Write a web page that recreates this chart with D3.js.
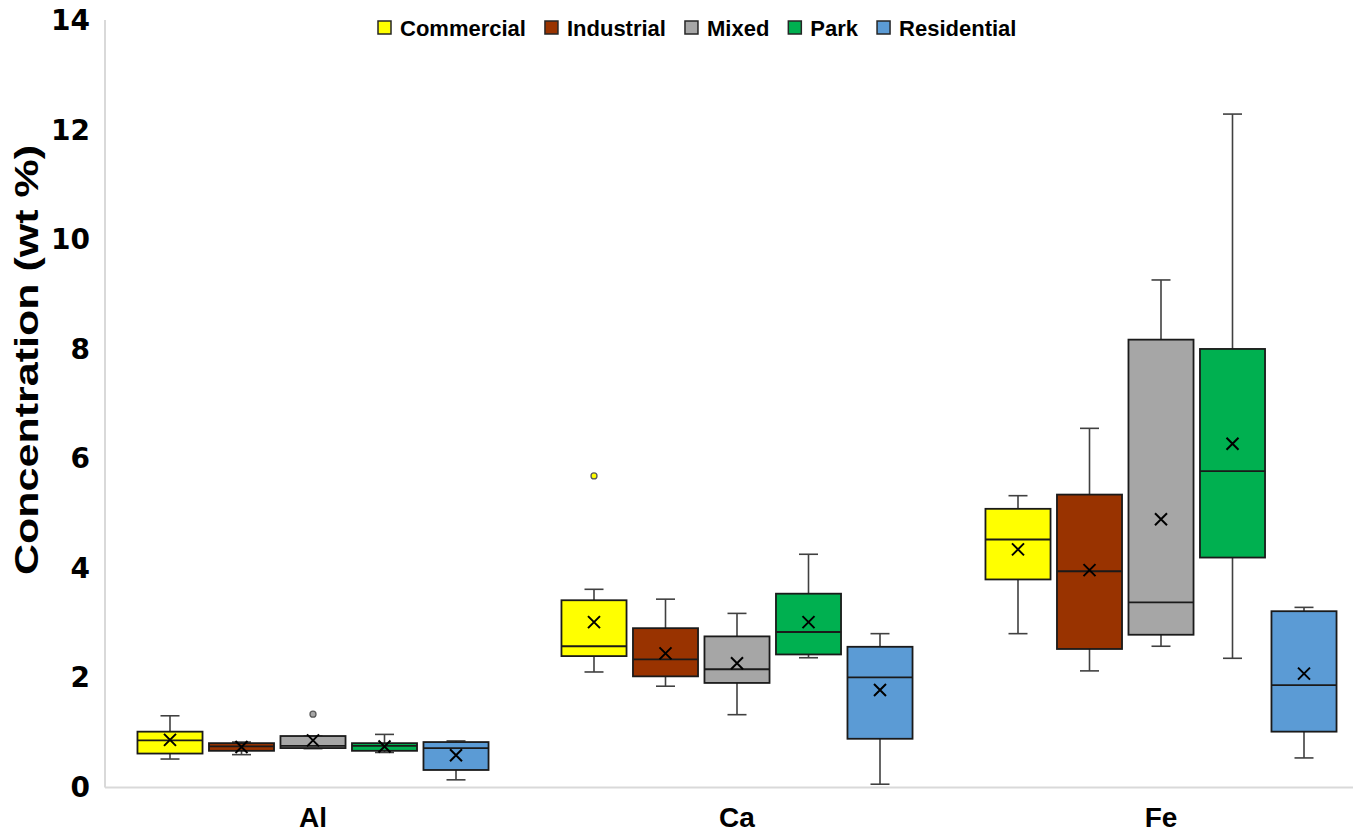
<!DOCTYPE html>
<html>
<head>
<meta charset="utf-8">
<script src="https://cdn.jsdelivr.net/npm/d3@7"></script>
<style>
  body { margin: 0; background: #fff; }
  text { font-family: "Liberation Sans", Arial, sans-serif; font-weight: bold; fill: #000; }
</style>
</head>
<body>
<div id="chart"></div>
<script>
const width = 1353
const height = 837

// Datos: [categoria][serie]
const categories = ["Al", "Ca", "Fe"]
const series = ["Commercial", "Industrial", "Mixed", "Park", "Residential"]
const colors = ["#ffff00", "#993300", "#a6a6a6", "#00b050", "#5b9bd5"]

const whiskerLow = [
  [0.52, 0.60, 0.71, 0.64, 0.14],
  [2.11, 1.85, 1.33, 2.37, 0.06],
  [2.81, 2.13, 2.58, 2.36, 0.54]
]
const q1 = [
  [0.62, 0.67, 0.72, 0.67, 0.32],
  [2.40, 2.03, 1.91, 2.43, 0.89],
  [3.80, 2.53, 2.79, 4.20, 1.02]
]
const median = [
  [0.86, 0.75, 0.76, 0.76, 0.72],
  [2.58, 2.34, 2.16, 2.84, 2.01],
  [4.53, 3.95, 3.38, 5.78, 1.87]
]
const q3 = [
  [1.02, 0.81, 0.94, 0.81, 0.83],
  [3.42, 2.91, 2.76, 3.54, 2.57],
  [5.09, 5.35, 8.18, 8.01, 3.22]
]
const whiskerHigh = [
  [1.31, 0.83, 0.94, 0.97, 0.85],
  [3.62, 3.44, 3.18, 4.26, 2.81],
  [5.33, 6.56, 9.27, 12.30, 3.29]
]
const mean = [
  [0.87, 0.74, 0.86, 0.75, 0.59],
  [3.02, 2.45, 2.27, 3.02, 1.78],
  [4.35, 3.97, 4.90, 6.28, 2.08]
]
// outliers: [categoria, serie, valor]
const outliers = [
  ["Al", "Mixed", 1.34],
  ["Ca", "Commercial", 5.69]
]
const yTicks = [0, 2, 4, 6, 8, 10, 12, 14]

const margin = { top: 21, bottom: 49.5, left: 105, right: 0 }

const svg = d3.select("#chart")
  .append("svg")
  .attr("width", width)
  .attr("height", height)

// Escalas
const y = d3.scaleLinear().domain([0, 14]).range([height - margin.bottom, margin.top])
const x0 = d3.scaleBand().domain(categories).range([101, 1373])
const x1 = d3.scaleBand().domain(series).range([0, x0.bandwidth()]).paddingInner(0.09).paddingOuter(0.51)
const color = d3.scaleOrdinal().domain(series).range(colors)

// Ejes (lineas gris claro, sin marcas)
svg.append("line")
  .attr("x1", margin.left).attr("x2", margin.left)
  .attr("y1", margin.top - 1).attr("y2", y(0))
  .attr("stroke", "#d9d9d9").attr("stroke-width", 2)
svg.append("line")
  .attr("x1", margin.left).attr("x2", width)
  .attr("y1", y(0)).attr("y2", y(0))
  .attr("stroke", "#d9d9d9").attr("stroke-width", 2)

const yAxis = d3.axisLeft(y).tickValues(yTicks).tickSize(0).tickPadding(15)
const yAxisGroup = svg.append("g")
  .attr("transform", `translate(${margin.left}, 0)`)
  .call(yAxis)
yAxisGroup.select(".domain").remove()
yAxisGroup.selectAll("text")
  .style("font-family", "'DejaVu Sans', sans-serif")
  .style("font-weight", "bold")
  .style("font-size", "28px")
  .attr("fill", "#000")

const xAxis = d3.axisBottom(x0).tickSize(0).tickPadding(20)
const xAxisGroup = svg.append("g")
  .attr("transform", `translate(0, ${y(0)})`)
  .call(xAxis)
xAxisGroup.select(".domain").remove()
xAxisGroup.selectAll("text")
  .style("font-family", "'Liberation Sans', Arial, sans-serif")
  .style("font-weight", "bold")
  .style("font-size", "28px")
  .attr("fill", "#000")

// Titulo eje Y
svg.append("text")
  .attr("transform", `translate(38, 360) rotate(-90)`)
  .attr("text-anchor", "middle")
  .attr("textLength", 430)
  .attr("lengthAdjust", "spacingAndGlyphs")
  .style("font-size", "33px")
  .text("Concentration (wt %)")

// Cajas
const boxes = []
categories.forEach((c, ci) => {
  series.forEach((s, si) => {
    boxes.push({
      cat: c, ser: s,
      lo: whiskerLow[ci][si], q1: q1[ci][si], med: median[ci][si],
      q3: q3[ci][si], hi: whiskerHigh[ci][si], mean: mean[ci][si]
    })
  })
})

const bw = x1.bandwidth()
const capW = 19
const g = svg.append("g").attr("id", "elementGroup")

const box = g.selectAll("g.box").data(boxes).enter()
  .append("g")
  .attr("class", "box")
  .attr("transform", d => `translate(${x0(d.cat) + x1(d.ser)}, 0)`)

// bigotes
box.append("line")
  .attr("x1", bw / 2).attr("x2", bw / 2)
  .attr("y1", d => y(d.hi)).attr("y2", d => y(d.q3))
  .attr("stroke", "#404040").attr("stroke-width", 1.6)
box.append("line")
  .attr("x1", bw / 2).attr("x2", bw / 2)
  .attr("y1", d => y(d.q1)).attr("y2", d => y(d.lo))
  .attr("stroke", "#404040").attr("stroke-width", 1.6)
box.append("line")
  .attr("x1", bw / 2 - capW / 2).attr("x2", bw / 2 + capW / 2)
  .attr("y1", d => y(d.hi)).attr("y2", d => y(d.hi))
  .attr("stroke", "#404040").attr("stroke-width", 1.6)
box.append("line")
  .attr("x1", bw / 2 - capW / 2).attr("x2", bw / 2 + capW / 2)
  .attr("y1", d => y(d.lo)).attr("y2", d => y(d.lo))
  .attr("stroke", "#404040").attr("stroke-width", 1.6)

box.append("rect")
  .attr("x", 0)
  .attr("width", bw)
  .attr("y", d => y(d.q3))
  .attr("height", d => y(d.q1) - y(d.q3))
  .attr("fill", d => color(d.ser))
  .attr("stroke", "#1a1a1a").attr("stroke-width", 1.8)

box.append("line")
  .attr("x1", 0).attr("x2", bw)
  .attr("y1", d => y(d.med)).attr("y2", d => y(d.med))
  .attr("stroke", "#1a1a1a").attr("stroke-width", 1.8)

// media (x)
const m = 6
box.append("path")
  .attr("d", d => `M${bw / 2 - m},${y(d.mean) - m}L${bw / 2 + m},${y(d.mean) + m}M${bw / 2 - m},${y(d.mean) + m}L${bw / 2 + m},${y(d.mean) - m}`)
  .attr("stroke", "#000").attr("stroke-width", 2).attr("fill", "none")

// outliers
g.selectAll("circle.out").data(outliers).enter()
  .append("circle")
  .attr("class", "out")
  .attr("cx", d => x0(d[0]) + x1(d[1]) + bw / 2)
  .attr("cy", d => y(d[2]))
  .attr("r", 3)
  .attr("fill", d => color(d[1]))
  .attr("stroke", "#595959").attr("stroke-width", 1.3)

// Leyenda
const legend = svg.append("g").attr("transform", "translate(378, 0)")
let lx = 0
series.forEach(s => {
  const item = legend.append("g").attr("transform", `translate(${lx}, 0)`)
  item.append("rect")
    .attr("x", 0).attr("y", 21)
    .attr("width", 13).attr("height", 13)
    .attr("fill", color(s))
    .attr("stroke", "#262626").attr("stroke-width", 1.5)
  const t = item.append("text")
    .attr("x", 22).attr("y", 36)
    .style("font-size", "22px")
    .text(s)
  lx += 22 + t.node().getComputedTextLength() + 19
})
</script>
</body>
</html>
